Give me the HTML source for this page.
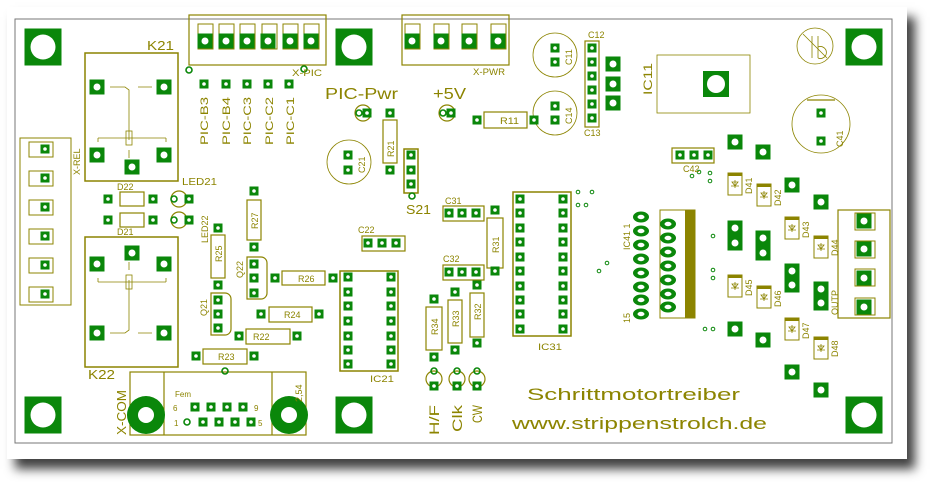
<!DOCTYPE html>
<html><head><meta charset="utf-8"><style>
html,body{margin:0;padding:0;background:#fff;width:930px;height:482px;overflow:hidden}
.card{position:absolute;left:7px;top:7px;width:900px;height:452px;background:#fff;box-shadow:8px 10px 10px rgba(0,0,0,0.75)}
svg{position:absolute;left:0;top:0}
text{font-family:"Liberation Sans",sans-serif;fill:#8c8400}
</style></head><body>
<div class="card"></div>
<svg width="930" height="482" viewBox="0 0 930 482">
<defs>
<g id="p"><rect x="-4.5" y="-4.5" width="9" height="9" fill="#0a870a"/><circle r="1.8" fill="#fff"/></g>
<g id="b"><rect x="-7.5" y="-7.5" width="15" height="15" fill="#0a870a"/><circle r="3.5" fill="#fff"/></g>
<g id="m"><rect x="-18.5" y="-18.5" width="37" height="37" fill="#0a870a"/><circle r="12.5" fill="#fff"/></g>
<g id="o"><ellipse rx="8" ry="5.5" fill="#0a870a"/><ellipse rx="3.5" ry="2.2" fill="#fff"/></g>
<g id="v"><circle r="3" fill="none" stroke="#0a870a" stroke-width="1.6"/></g>
<g id="d"><rect x="-7" y="-11" width="14" height="22" fill="#fff" stroke="#8c8400"/><rect x="-7" y="-11" width="14" height="3" fill="#8c8400"/><path d="M-4,2h8M0,-4v8M-3,-2l3,4l3,-4z" stroke="#8c8400" fill="none" stroke-width="0.8"/></g>
</defs>
<g fill="none" stroke="#8c8400" stroke-width="1.2">
<rect x="15" y="19" width="877" height="424" stroke="#777" stroke-width="1"/>
<rect x="85" y="53" width="93" height="128" stroke-width="1.5"/>
<path d="M110,87h15l4,3v50M138,87h14M98,138h68M98,138v4M166,138v4M129,150v8" stroke-width="0.8"/>
<rect x="126" y="131" width="6" height="14" stroke-width="0.8"/>
<rect x="85" y="237" width="93" height="130" stroke-width="1.5"/>
<path d="M110,333h15l4,-3v-50M138,333h14M98,282h68M98,282v-4M166,282v-4M129,270v-8" stroke-width="0.8"/>
<rect x="126" y="275" width="6" height="14" stroke-width="0.8"/>
<rect x="20" y="138" width="51" height="167" stroke-width="1"/>
<rect x="189" y="15" width="137" height="50"/>
<rect x="402" y="15" width="107" height="50"/>
<rect x="383" y="120" width="14" height="43"/>
<circle cx="349" cy="162" r="22" stroke-width="0.8"/>
<rect x="404" y="149" width="14" height="44" stroke-width="1.5"/>
<rect x="484" y="112" width="43" height="16"/>
<circle cx="555" cy="55" r="22" stroke-width="0.8"/>
<circle cx="555" cy="113" r="22" stroke-width="0.8"/>
<rect x="585" y="41" width="14" height="86"/>
<rect x="657" y="55" width="93" height="58" stroke-width="0.8"/>
<circle cx="815" cy="46" r="18" stroke-width="0.8"/>
<path d="M803,34l24,24M812,36v22M818,36v22M818,47a6,6 0 1,1 0,11" stroke-width="0.8"/>
<circle cx="821" cy="124" r="29" stroke-width="0.8"/>
<path d="M807,100h28" stroke-width="1.2"/>
<rect x="672" y="148" width="42" height="15"/>
<rect x="660" y="210" width="35" height="108" stroke-width="1"/>
<rect x="513" y="192" width="58" height="144" stroke-width="1.5"/>
<rect x="340" y="271" width="58" height="100" stroke-width="1.5"/>
<rect x="487" y="218" width="16" height="50"/>
<rect x="470" y="293" width="14" height="44"/>
<rect x="448" y="300" width="14" height="43"/>
<rect x="426" y="307" width="16" height="43"/>
<rect x="443" y="206" width="41" height="15"/>
<rect x="443" y="265" width="41" height="15"/>
<rect x="362" y="236" width="43" height="15"/>
<rect x="247" y="200" width="14" height="40"/>
<rect x="211" y="235" width="14" height="43"/>
<path d="M247,257h14a6,6 0 0 1 6,6v30a6,6 0 0 1 -6,6h-14z"/>
<path d="M211,293h14a6,6 0 0 1 6,6v30a6,6 0 0 1 -6,6h-14z"/>
<rect x="282" y="271" width="43" height="14"/>
<rect x="269" y="307" width="43" height="15"/>
<rect x="246" y="329" width="44" height="15"/>
<rect x="203" y="349" width="44" height="15"/>
<rect x="120" y="192" width="24" height="14"/>
<rect x="120" y="213" width="24" height="14"/>
<circle cx="179" cy="199" r="8"/><circle cx="179" cy="220" r="8"/>
<circle cx="363" cy="113" r="8"/><circle cx="447" cy="113" r="8"/>
<circle cx="434" cy="379" r="8"/><circle cx="457" cy="379" r="8"/><circle cx="477" cy="379" r="8"/>
<rect x="130" y="372" width="176" height="63"/>
<path d="M164,372v63M272,372v63"/>
<rect x="838" y="210" width="52" height="108"/>
</g>
<g fill="none" stroke="#8c8400" stroke-width="1">
<rect x="29" y="142" width="24" height="15"/><rect x="29" y="171" width="24" height="15"/><rect x="29" y="200" width="24" height="15"/><rect x="29" y="229" width="24" height="15"/><rect x="29" y="258" width="24" height="15"/><rect x="29" y="287" width="24" height="15"/>
<rect x="198" y="24" width="15" height="25"/><rect x="219" y="24" width="15" height="25"/><rect x="240" y="24" width="15" height="25"/><rect x="262" y="24" width="15" height="25"/><rect x="283" y="24" width="15" height="25"/><rect x="304" y="24" width="15" height="25"/>
<rect x="405" y="24" width="15" height="25"/><rect x="434" y="24" width="15" height="25"/><rect x="462" y="24" width="15" height="25"/><rect x="491" y="24" width="15" height="25"/>
<rect x="855" y="213" width="20" height="17"/><rect x="855" y="241" width="20" height="17"/><rect x="855" y="269" width="20" height="17"/><rect x="855" y="298" width="20" height="17"/>
</g>
<rect x="685" y="210" width="10" height="108" fill="#8c8400"/>
<use href="#m" x="43" y="47"/><use href="#m" x="354" y="47"/><use href="#m" x="864" y="47"/>
<use href="#m" x="43" y="415"/><use href="#m" x="354" y="415"/><use href="#m" x="864" y="415"/>
<circle cx="146" cy="415" r="19" fill="#0a870a"/><circle cx="146" cy="415" r="8" fill="#fff"/>
<circle cx="289" cy="415" r="19" fill="#0a870a"/><circle cx="289" cy="415" r="8" fill="#fff"/>
<rect x="703" y="71" width="26" height="26" fill="#0a870a"/><circle cx="716" cy="84" r="9" fill="#fff"/>
<g>
<use href="#p" x="45" y="149"/><use href="#p" x="45" y="178"/><use href="#p" x="45" y="207"/><use href="#p" x="45" y="236"/><use href="#p" x="45" y="265"/><use href="#p" x="45" y="294"/>
<use href="#b" x="97" y="87"/><use href="#b" x="164" y="87"/><use href="#b" x="97" y="155"/><use href="#b" x="164" y="155"/><use href="#b" x="132" y="167"/>
<use href="#b" x="97" y="264"/><use href="#b" x="164" y="264"/><use href="#b" x="97" y="333"/><use href="#b" x="164" y="333"/><use href="#b" x="132" y="253"/>
<use href="#b" x="205" y="41"/><use href="#b" x="226" y="41"/><use href="#b" x="247" y="41"/><use href="#b" x="268" y="41"/><use href="#b" x="290" y="41"/><use href="#b" x="311" y="41"/>
<use href="#b" x="412" y="41"/><use href="#b" x="441" y="41"/><use href="#b" x="469" y="41"/><use href="#b" x="498" y="41"/>
<use href="#p" x="204" y="84"/><use href="#p" x="226" y="84"/><use href="#p" x="247" y="84"/><use href="#p" x="268" y="84"/><use href="#p" x="289" y="84"/>
<use href="#p" x="390" y="113"/><use href="#p" x="390" y="170"/>
<use href="#p" x="348" y="155"/><use href="#p" x="348" y="170"/>
<use href="#p" x="411" y="155"/><use href="#p" x="411" y="170"/><use href="#p" x="411" y="184"/>
<use href="#p" x="477" y="120"/><use href="#p" x="534" y="120"/>
<use href="#p" x="555" y="48"/><use href="#p" x="555" y="62"/><use href="#p" x="555" y="106"/><use href="#p" x="555" y="120"/>
<use href="#p" x="592" y="48"/><use href="#p" x="592" y="62"/><use href="#p" x="592" y="76"/><use href="#p" x="592" y="90"/><use href="#p" x="592" y="104"/><use href="#p" x="592" y="118"/>
<use href="#b" x="613" y="64"/><use href="#b" x="613" y="84"/><use href="#b" x="613" y="103"/>
<use href="#p" x="821" y="113"/><use href="#p" x="821" y="141"/>
<use href="#p" x="680" y="155"/><use href="#p" x="694" y="155"/><use href="#p" x="708" y="155"/>
<use href="#b" x="735" y="142"/><use href="#b" x="763" y="152"/><use href="#b" x="792" y="185"/><use href="#b" x="821" y="202"/>
<use href="#b" x="735" y="228"/><use href="#b" x="735" y="243"/><use href="#b" x="763" y="238"/><use href="#b" x="763" y="253"/>
<use href="#b" x="792" y="271"/><use href="#b" x="792" y="285"/><use href="#b" x="821" y="289"/><use href="#b" x="821" y="303"/>
<use href="#b" x="735" y="329"/><use href="#b" x="763" y="340"/><use href="#b" x="792" y="372"/><use href="#b" x="821" y="390"/>
<use href="#b" x="864" y="221"/><use href="#b" x="864" y="249"/><use href="#b" x="864" y="278"/><use href="#b" x="864" y="307"/>
<use href="#o" x="641" y="217"/><use href="#o" x="641" y="231"/><use href="#o" x="641" y="245"/><use href="#o" x="641" y="259"/><use href="#o" x="641" y="273"/><use href="#o" x="641" y="287"/><use href="#o" x="641" y="300"/><use href="#o" x="641" y="314"/>
<use href="#o" x="668" y="224"/><use href="#o" x="668" y="238"/><use href="#o" x="668" y="252"/><use href="#o" x="668" y="266"/><use href="#o" x="668" y="280"/><use href="#o" x="668" y="294"/><use href="#o" x="668" y="307"/>
<use href="#p" x="520" y="199"/><use href="#p" x="520" y="213"/><use href="#p" x="520" y="228"/><use href="#p" x="520" y="242"/><use href="#p" x="520" y="257"/><use href="#p" x="520" y="271"/><use href="#p" x="520" y="286"/><use href="#p" x="520" y="300"/><use href="#p" x="520" y="314"/><use href="#p" x="520" y="329"/>
<use href="#p" x="563" y="199"/><use href="#p" x="563" y="213"/><use href="#p" x="563" y="228"/><use href="#p" x="563" y="242"/><use href="#p" x="563" y="257"/><use href="#p" x="563" y="271"/><use href="#p" x="563" y="286"/><use href="#p" x="563" y="300"/><use href="#p" x="563" y="314"/><use href="#p" x="563" y="329"/>
<use href="#p" x="348" y="277"/><use href="#p" x="348" y="292"/><use href="#p" x="348" y="306"/><use href="#p" x="348" y="321"/><use href="#p" x="348" y="336"/><use href="#p" x="348" y="350"/><use href="#p" x="348" y="364"/>
<use href="#p" x="391" y="277"/><use href="#p" x="391" y="292"/><use href="#p" x="391" y="306"/><use href="#p" x="391" y="321"/><use href="#p" x="391" y="336"/><use href="#p" x="391" y="350"/><use href="#p" x="391" y="364"/>
<use href="#p" x="495" y="210"/><use href="#p" x="495" y="271"/><use href="#p" x="477" y="285"/><use href="#p" x="477" y="343"/>
<use href="#p" x="455" y="292"/><use href="#p" x="455" y="350"/><use href="#p" x="434" y="299"/><use href="#p" x="434" y="357"/>
<use href="#p" x="449" y="213"/><use href="#p" x="462" y="213"/><use href="#p" x="476" y="213"/>
<use href="#p" x="449" y="272"/><use href="#p" x="462" y="272"/><use href="#p" x="476" y="272"/>
<use href="#p" x="368" y="243"/><use href="#p" x="382" y="243"/><use href="#p" x="396" y="243"/>
<use href="#p" x="254" y="191"/><use href="#p" x="254" y="247"/><use href="#p" x="218" y="228"/><use href="#p" x="218" y="285"/>
<use href="#p" x="254" y="264"/><use href="#p" x="254" y="278"/><use href="#p" x="254" y="293"/>
<use href="#p" x="218" y="300"/><use href="#p" x="218" y="314"/><use href="#p" x="218" y="328"/>
<use href="#p" x="275" y="278"/><use href="#p" x="333" y="278"/><use href="#p" x="261" y="314"/><use href="#p" x="319" y="314"/>
<use href="#p" x="239" y="336"/><use href="#p" x="297" y="336"/><use href="#p" x="196" y="356"/><use href="#p" x="254" y="356"/>
<use href="#p" x="108" y="199"/><use href="#p" x="153" y="199"/><use href="#p" x="108" y="220"/><use href="#p" x="153" y="220"/>
<use href="#p" x="189" y="199"/><use href="#p" x="189" y="220"/><use href="#p" x="367" y="113"/><use href="#p" x="451" y="113"/>
<use href="#p" x="434" y="386"/><use href="#p" x="457" y="386"/><use href="#p" x="477" y="386"/>
<use href="#p" x="195" y="407"/><use href="#p" x="211" y="407"/><use href="#p" x="227" y="407"/><use href="#p" x="243" y="407"/>
<use href="#p" x="203" y="422"/><use href="#p" x="219" y="422"/><use href="#p" x="235" y="422"/><use href="#p" x="251" y="422"/>
</g>
<use href="#v" x="187" y="422"/><use href="#v" x="189" y="70"/><use href="#v" x="304" y="69"/><use href="#v" x="225" y="371"/>
<use href="#v" x="412" y="196"/><use href="#v" x="434" y="371"/><use href="#v" x="457" y="371"/><use href="#v" x="477" y="371"/>
<use href="#v" x="174" y="199"/><use href="#v" x="174" y="220"/><use href="#v" x="359" y="113"/><use href="#v" x="443" y="113"/>
<use href="#v" x="391" y="364"/><use href="#v" x="563" y="329"/>
<g fill="none" stroke="#0a870a"><circle cx="578" cy="192" r="1.8"/><circle cx="592" cy="192" r="1.8"/><circle cx="578" cy="205" r="1.8"/><circle cx="586" cy="205" r="1.8"/><circle cx="692" cy="176" r="1.8"/><circle cx="699" cy="172" r="1.8"/><circle cx="710" cy="173" r="1.8"/><circle cx="710" cy="181" r="1.8"/><circle cx="599" cy="271" r="1.8"/><circle cx="607" cy="263" r="1.8"/><circle cx="713" cy="236" r="1.8"/><circle cx="713" cy="270" r="1.8"/><circle cx="713" cy="278" r="1.8"/><circle cx="705" cy="329" r="1.8"/><circle cx="713" cy="329" r="1.8"/></g>
<use href="#d" x="735" y="184"/><use href="#d" x="764" y="195"/><use href="#d" x="792" y="228"/><use href="#d" x="821" y="247"/>
<use href="#d" x="735" y="286"/><use href="#d" x="764" y="297"/><use href="#d" x="792" y="329"/><use href="#d" x="821" y="348"/>
<g font-size="11">
<text x="147" y="50" font-size="13" textLength="27" lengthAdjust="spacingAndGlyphs">K21</text>
<text x="88" y="379" font-size="13" textLength="27" lengthAdjust="spacingAndGlyphs">K22</text>
<text x="292" y="76" font-size="9" textLength="30" lengthAdjust="spacingAndGlyphs">X-PIC</text>
<text x="473" y="75" font-size="9" textLength="32" lengthAdjust="spacingAndGlyphs">X-PWR</text>
<text x="325" y="99" font-size="16" textLength="73" lengthAdjust="spacingAndGlyphs">PIC-Pwr</text>
<text x="433" y="99" font-size="16" textLength="33" lengthAdjust="spacingAndGlyphs">+5V</text>
<text x="406" y="214" font-size="13" textLength="25" lengthAdjust="spacingAndGlyphs">S21</text>
<text x="500" y="124" font-size="9" textLength="19" lengthAdjust="spacingAndGlyphs">R11</text>
<text x="588" y="38" font-size="9">C12</text>
<text x="584" y="136" font-size="9">C13</text>
<text x="683" y="172" font-size="9">C42</text>
<text x="445" y="204" font-size="9">C31</text>
<text x="443" y="262" font-size="9">C32</text>
<text x="358" y="233" font-size="9">C22</text>
<text x="370" y="382" font-size="9" textLength="24" lengthAdjust="spacingAndGlyphs">IC21</text>
<text x="538" y="350" font-size="9" textLength="24" lengthAdjust="spacingAndGlyphs">IC31</text>
<text x="117" y="190" font-size="9">D22</text>
<text x="117" y="235" font-size="9">D21</text>
<text x="182" y="185" font-size="10" textLength="35" lengthAdjust="spacingAndGlyphs">LED21</text>
<text x="284" y="318" font-size="9">R24</text>
<text x="298" y="282" font-size="9">R26</text>
<text x="253" y="340" font-size="9">R22</text>
<text x="218" y="360" font-size="9">R23</text>
<text x="175" y="397" font-size="8">Fem</text>
<text x="173" y="411" font-size="8">6</text><text x="254" y="411" font-size="8">9</text>
<text x="174" y="426" font-size="8">1</text><text x="258" y="426" font-size="8">5</text>
<text x="527" y="400" font-size="17" textLength="213" lengthAdjust="spacingAndGlyphs">Schrittmotortreiber</text>
<text x="512" y="429" font-size="17" textLength="255" lengthAdjust="spacingAndGlyphs">www.strippenstrolch.de</text>
</g>
<g font-size="10">
<text transform="translate(208,145) rotate(-90)" font-size="11" textLength="48" lengthAdjust="spacingAndGlyphs">PIC-B3</text>
<text transform="translate(230,145) rotate(-90)" font-size="11" textLength="48" lengthAdjust="spacingAndGlyphs">PIC-B4</text>
<text transform="translate(251,145) rotate(-90)" font-size="11" textLength="48" lengthAdjust="spacingAndGlyphs">PIC-C3</text>
<text transform="translate(273,145) rotate(-90)" font-size="11" textLength="48" lengthAdjust="spacingAndGlyphs">PIC-C2</text>
<text transform="translate(294,145) rotate(-90)" font-size="11" textLength="48" lengthAdjust="spacingAndGlyphs">PIC-C1</text>
<text transform="translate(80,175) rotate(-90)" font-size="9">X-REL</text>
<text transform="translate(394,157) rotate(-90)" font-size="9">R21</text>
<text transform="translate(365,173) rotate(-90)" font-size="9">C21</text>
<text transform="translate(572,65) rotate(-90)" font-size="9">C11</text>
<text transform="translate(572,124) rotate(-90)" font-size="9">C14</text>
<text transform="translate(652,95) rotate(-90)" font-size="12" textLength="32" lengthAdjust="spacingAndGlyphs">IC11</text>
<text transform="translate(843,147) rotate(-90)" font-size="9">C41</text>
<text transform="translate(258,229) rotate(-90)" font-size="9">R27</text>
<text transform="translate(222,262) rotate(-90)" font-size="9">R25</text>
<text transform="translate(208,243) rotate(-90)" font-size="9">LED22</text>
<text transform="translate(243,278) rotate(-90)" font-size="9">Q22</text>
<text transform="translate(207,316) rotate(-90)" font-size="9">Q21</text>
<text transform="translate(499,253) rotate(-90)" font-size="9">R31</text>
<text transform="translate(481,320) rotate(-90)" font-size="9">R32</text>
<text transform="translate(459,327) rotate(-90)" font-size="9">R33</text>
<text transform="translate(438,335) rotate(-90)" font-size="9">R34</text>
<text transform="translate(630,250) rotate(-90)" font-size="9">IC41 1</text>
<text transform="translate(630,323) rotate(-90)" font-size="9">15</text>
<text transform="translate(752,194) rotate(-90)" font-size="9">D41</text>
<text transform="translate(781,206) rotate(-90)" font-size="9">D42</text>
<text transform="translate(809,238) rotate(-90)" font-size="9">D43</text>
<text transform="translate(838,256) rotate(-90)" font-size="9">D44</text>
<text transform="translate(752,296) rotate(-90)" font-size="9">D45</text>
<text transform="translate(781,307) rotate(-90)" font-size="9">D46</text>
<text transform="translate(809,339) rotate(-90)" font-size="9">D47</text>
<text transform="translate(838,357) rotate(-90)" font-size="9">D48</text>
<text transform="translate(838,315) rotate(-90)" font-size="9">OUTP</text>
<text transform="translate(126,435) rotate(-90)" font-size="13" textLength="45" lengthAdjust="spacingAndGlyphs">X-COM</text>
<text transform="translate(302,402) rotate(-90)" font-size="9">2,54</text>
<text transform="translate(439,435) rotate(-90)" font-size="14" textLength="30" lengthAdjust="spacingAndGlyphs">H/F</text>
<text transform="translate(462,432) rotate(-90)" font-size="14" textLength="27" lengthAdjust="spacingAndGlyphs">Clk</text>
<text transform="translate(482,423) rotate(-90)" font-size="14" textLength="18" lengthAdjust="spacingAndGlyphs">CW</text>
</g>
</svg>
</body></html>
